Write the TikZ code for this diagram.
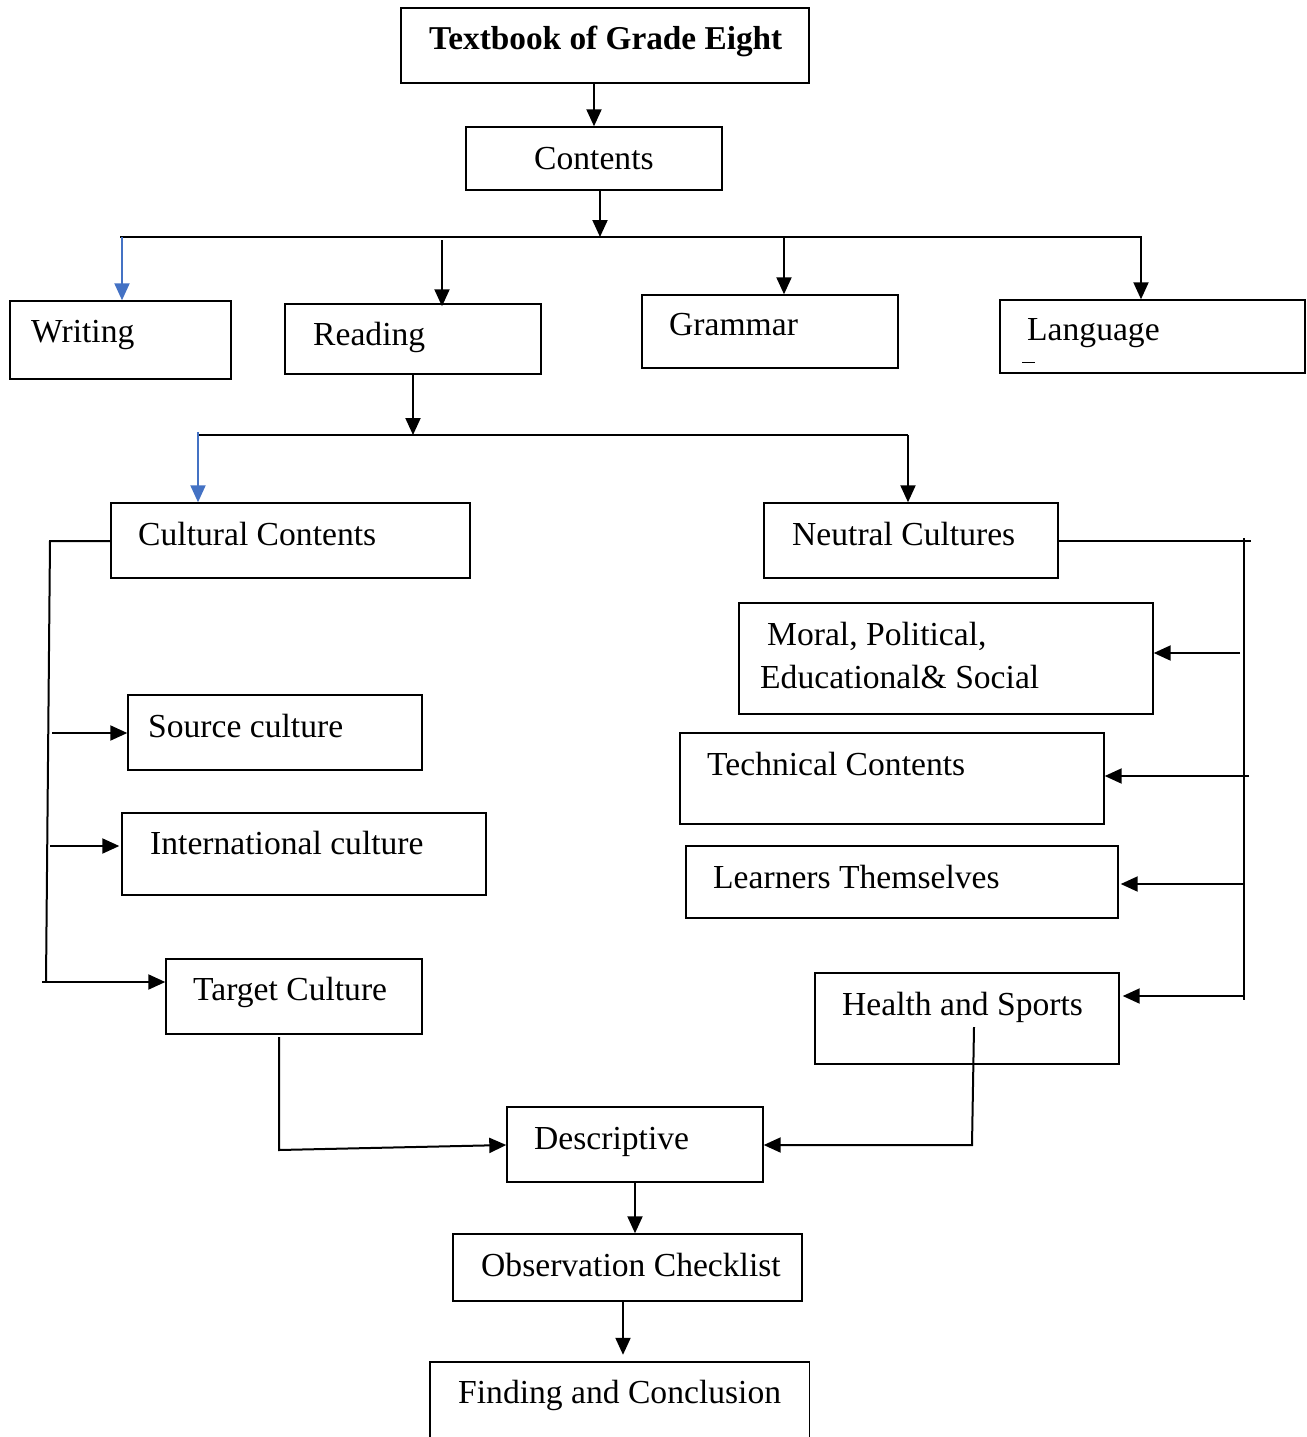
\documentclass[tikz,border=0pt]{standalone}
\usepackage{fontspec}
\setmainfont{Liberation Serif}
\usetikzlibrary{arrows.meta,fit,calc}
\definecolor{wordblue}{HTML}{4472C4}
\tikzset{
  box/.style={draw=black, line width=1.4pt, inner sep=0pt, fill=none},
  txt/.style={anchor=base west, inner sep=0pt, font=\fontsize{33.6}{40}\selectfont},
  ttl/.style={anchor=base west, inner sep=0pt, font=\fontsize{33.3}{40}\selectfont\bfseries},
  conn/.style={draw=black, line width=2pt},
  arr/.style={conn, -{Triangle[length=17pt,width=15pt]}},
  barr/.style={draw=wordblue, line width=2pt, -{Triangle[length=17pt,width=15pt]}},
}
\begin{document}
\begin{tikzpicture}[x=1pt,y=-1pt]
\useasboundingbox (0,0) rectangle (1306,1437);
% boxes
\node[box, fit={(401,8)(809,83)}] (title) {};
\node[box, fit={(466,127)(722,190)}] (contents) {};
\node[box, fit={(10,301)(231,379)}] (writing) {};
\node[box, fit={(285,304)(541,374)}] (reading) {};
\node[box, fit={(642,295)(898,368)}] (grammar) {};
\node[box, fit={(1000,300)(1305,373)}] (language) {};
\node[box, fit={(111,503)(470,578)}] (cultural) {};
\node[box, fit={(764,503)(1058,578)}] (neutral) {};
\node[box, fit={(128,695)(422,770)}] (source) {};
\node[box, fit={(122,813)(486,895)}] (intl) {};
\node[box, fit={(166,959)(422,1034)}] (target) {};
\node[box, fit={(739,603)(1153,714)}] (moral) {};
\node[box, fit={(680,733)(1104,824)}] (technical) {};
\node[box, fit={(686,846)(1118,918)}] (learners) {};
\node[box, fit={(815,973)(1119,1064)}] (health) {};
\node[box, fit={(507,1107)(763,1182)}] (descriptive) {};
\node[box, fit={(453,1234)(802,1301)}] (observation) {};
\node[inner sep=0pt, fit={(430,1362)(809,1437)}] (finding) {};
\draw[line width=1.4pt] (finding.south west) -- (finding.north west) -- (finding.north east) -- (finding.south east);
% texts
\node[ttl] (title-t) at (429,49) {Textbook of Grade Eight};
\node[txt] (contents-t) at (534,169) {Contents};
\node[txt] (writing-t) at (31,342) {Writing};
\node[txt] (reading-t) at (313,345) {Reading};
\node[txt] (grammar-t) at (669,335) {Grammar};
\node[txt] (language-t) at (1027,340) {Language};
\draw[line width=0.8pt] (1022,362) -- (1035,362);
\node[txt] (cultural-t) at (138,545) {Cultural Contents};
\node[txt] (neutral-t) at (792,545) {Neutral Cultures};
\node[txt] (source-t) at (148,737) {Source culture};
\node[txt] (intl-t) at (150,854) {International culture};
\node[txt] (target-t) at (193,1000) {Target Culture};
\node[txt] (moral-t1) at (767,645) {Moral, Political,};
\node[txt] (moral-t2) at (760,688) {Educational\& Social};
\node[txt] (technical-t) at (707,775) {Technical Contents};
\node[txt] (learners-t) at (713,888) {Learners Themselves};
\node[txt] (health-t) at (842,1015) {Health and Sports};
\node[txt] (descriptive-t) at (534,1149) {Descriptive};
\node[txt] (observation-t) at (481,1276) {Observation Checklist};
\node[txt] (finding-t) at (458,1403) {Finding and Conclusion};
% top connectors
\coordinate (c1) at (594,0);
\draw[arr] (c1 |- title.south) -- (c1 |- contents.north);
\coordinate (busL) at (120,237);
\coordinate (busR) at (1142,237);
\coordinate (c2) at (600,237);
\draw[arr] (c2 |- contents.south) -- (c2);
\draw[conn] (busL) -- (busR);
\coordinate (bw) at (122,237);
\draw[barr] (bw) -- (bw |- writing.north);
\coordinate (br) at (442,240);
\draw[arr] (br) -- ($(br |- reading.north)+(0,3)$);
\coordinate (bg) at (784,237);
\draw[arr] (bg) -- (bg |- grammar.north);
\coordinate (bl) at (1141,237);
\draw[arr] (bl) -- (bl |- language.north);
% reading bus
\coordinate (c3) at (413,435);
\draw[arr] (c3 |- reading.south) -- (c3);
\coordinate (bus2L) at (198,435);
\coordinate (bus2R) at (908,435);
\draw[conn] (bus2L) -- (bus2R);
\coordinate (bc) at (198,432);
\draw[barr] (bc) -- (bc |- cultural.north);
\draw[arr] (bus2R) -- (bus2R |- neutral.north);
% left bus
\coordinate (lt) at (50,541);
\coordinate (lb) at (46,982);
\draw[conn] (lt -| cultural.west) -- (lt) -- (lb);
\coordinate (ls) at (52,733);
\draw[arr] (ls) -- (ls -| source.west);
\coordinate (li) at (50,846);
\draw[arr] (li) -- ($(li -| intl.west)+(-2,0)$);
\coordinate (lg) at (42,982);
\draw[arr] (lg) -- (lg -| target.west);
% right bus
\coordinate (rt) at (1244,538);
\coordinate (rb) at (1244,1000);
\coordinate (rh) at (1251,541);
\draw[conn] (neutral.east |- rh) -- (rh);
\draw[conn] (rt) -- (rb);
\coordinate (rm) at (1240,653);
\draw[arr] (rm) -- (rm -| moral.east);
\coordinate (rtc) at (1249,776);
\draw[arr] (rtc) -- (rtc -| technical.east);
\coordinate (rl) at (1244,884);
\draw[arr] (rl) -- ($(rl -| learners.east)+(2,0)$);
\coordinate (rhs) at (1244,996);
\draw[arr] (rhs) -- ($(rhs -| health.east)+(3,0)$);
% to descriptive
\coordinate (tg) at (279,1037);
\coordinate (tgc) at (279,1150);
\draw[arr] (tg) -- (tgc) -- (descriptive.west |- 0,1145);
\coordinate (hs) at (974,1027);
\coordinate (hsc) at (972,1145);
\draw[arr] (hs) -- (hsc) -- (descriptive.east |- hsc);
% bottom chain
\coordinate (c4) at (635,0);
\draw[arr] (c4 |- descriptive.south) -- (c4 |- observation.north);
\coordinate (c5) at (623,0);
\draw[arr] (c5 |- observation.south) -- ($(c5 |- finding.north)+(0,-7)$);
\end{tikzpicture}
\end{document}
